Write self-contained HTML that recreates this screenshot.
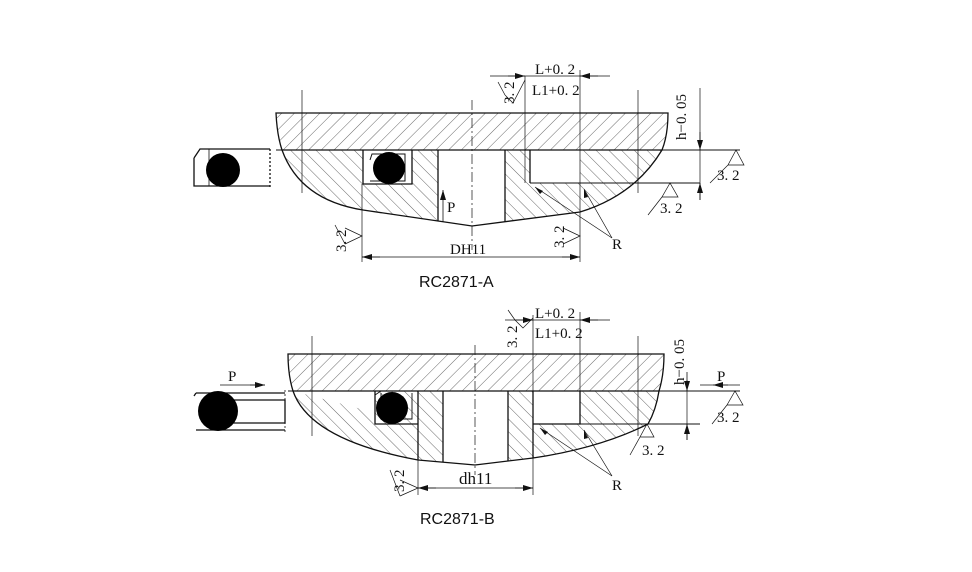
<!DOCTYPE html>
<html><head><meta charset="utf-8"><style>
html,body{margin:0;padding:0;background:#fff;}
svg{display:block;}
text{font-family:"Liberation Serif",serif;fill:#111;}
.t{font-family:"Liberation Sans",sans-serif;}
</style></head><body>
<svg width="972" height="572" viewBox="0 0 972 572" xmlns="http://www.w3.org/2000/svg">
<defs>
<pattern id="h1" width="9" height="9" patternUnits="userSpaceOnUse" patternTransform="rotate(45)"><line x1="0" y1="0" x2="0" y2="9" stroke="#444" stroke-width="0.8"/></pattern>
<pattern id="h2" width="9" height="9" patternUnits="userSpaceOnUse" patternTransform="rotate(-45)"><line x1="0" y1="0" x2="0" y2="9" stroke="#444" stroke-width="0.8"/></pattern>
<marker id="a" viewBox="0 0 10 6" refX="10" refY="3" markerWidth="10" markerHeight="6" orient="auto" markerUnits="userSpaceOnUse"><path d="M0,0L10,3L0,6z" fill="#111"/></marker>
</defs>
<g stroke="#111" stroke-width="1.3" fill="none">
<!-- ===== TOP FIGURE ===== -->
<path d="M276,113 L668,113 Q668,135 662,150 L282,150 Q277,135 276,113Z" fill="url(#h1)"/>
<path d="M282,150 L363,150 L363,210 Q300,200 282,150Z" fill="url(#h2)" stroke="none"/>
<path d="M363,184 L412,184 L412,150 L438,150 L438,221 L363,210Z" fill="url(#h2)" stroke="none"/>
<path d="M505,150 L530,150 L530,183 L580,183 L580,212 L505,222Z" fill="url(#h2)" stroke="none"/>
<path d="M580,150 L662,150 Q635,195 580,212Z" fill="url(#h2)" stroke="none"/>
<path d="M282,150 Q300,200 363,210 L472,226 L580,212 Q635,195 662,150"/>
<path d="M363,150 L363,184 L412,184 L412,150"/>
<path d="M370,160 L372,154 L405,154 L405,181 L370,181" stroke-width="1"/>
<circle cx="389" cy="168" r="16" fill="#000" stroke="none"/>
<line x1="438" y1="150" x2="438" y2="221"/><line x1="505" y1="150" x2="505" y2="222"/>
<path d="M530,150 L530,183"/>
<line x1="276" y1="150" x2="740" y2="150" stroke-width="1.1"/>
<line x1="530" y1="183" x2="700" y2="183" stroke-width="1.1"/>
<!-- left piece A -->
<path d="M194,158 L200,149 L270,149 M194,158 L194,186 L270,186" />
<path d="M200,149 L209,149 L209,186" stroke-width="0.8"/>
<line x1="270" y1="149" x2="270" y2="189" stroke-dasharray="2,2"/>
<circle cx="223" cy="170" r="17" fill="#000" stroke="none"/>
<g stroke-width="0.7">
<line x1="302" y1="90" x2="302" y2="193"/><line x1="638" y1="90" x2="638" y2="193"/>
<line x1="472" y1="100" x2="472" y2="250" stroke-dasharray="10,3,2,3"/>
<line x1="362" y1="184" x2="362" y2="262"/><line x1="580" y1="70" x2="580" y2="262"/>
<line x1="525" y1="76" x2="525" y2="183"/>
<line x1="490" y1="76" x2="610" y2="76"/>
<line x1="700" y1="88" x2="700" y2="200"/>
</g>
<line x1="508" y1="76" x2="525" y2="76" marker-end="url(#a)" stroke-width="0.8"/>
<line x1="598" y1="76" x2="580" y2="76" marker-end="url(#a)" stroke-width="0.8"/>
<line x1="700" y1="132" x2="700" y2="150" marker-end="url(#a)" stroke-width="0.8"/>
<line x1="700" y1="200" x2="700" y2="183" marker-end="url(#a)" stroke-width="0.8"/>
<line x1="362" y1="257" x2="580" y2="257" stroke-width="0.8"/>
<line x1="380" y1="257" x2="362" y2="257" marker-end="url(#a)" stroke-width="0.8"/>
<line x1="562" y1="257" x2="580" y2="257" marker-end="url(#a)" stroke-width="0.8"/>
<line x1="443" y1="222" x2="443" y2="190" marker-end="url(#a)" stroke-width="0.8"/>
<g stroke-width="0.7">
<line x1="535" y1="187" x2="612" y2="238"/><line x1="584" y1="189" x2="612" y2="238"/>
</g>
<path d="M535,187 l8,4 l-3,3z M584,189 l4,8 l-4,1z" fill="#111" stroke="none"/>
<g stroke-width="0.7">
<path d="M505,95 L513,103 L525,80"/><path d="M498,82 L505,95"/>
<path d="M736,150 L728,165 L744,165Z M728,165 L710,183"/>
<path d="M670,183 L662,197 L678,197Z M662,197 L648,215"/>
<path d="M345,228 L362,236 L345,244 M345,244 L335,225"/>
<path d="M563,228 L580,236 L563,244"/>
</g>
<!-- ===== BOTTOM FIGURE ===== -->
<path d="M288,354 L664,354 Q664,375 659,391 L293,391 Q288,375 288,354Z" fill="url(#h1)"/>
<path d="M293,391 Q310,440 418,460 L418,391 L375,391 L375,424 L418,424Z" fill="url(#h2)" stroke="none"/>
<path d="M418,391 L443,391 L443,462 L418,460Z" fill="url(#h2)" stroke="none"/>
<path d="M508,391 L533,391 L533,458 L508,461Z" fill="url(#h2)" stroke="none"/>
<path d="M533,424 L648,424 Q600,448 533,458Z" fill="url(#h2)" stroke="none"/>
<path d="M580,391 L659,391 Q656,410 648,424 L580,424Z" fill="url(#h2)" stroke="none"/>
<path d="M293,391 Q310,440 418,460 L475,465 L533,458 Q600,448 648,424 Q656,410 659,391"/>
<path d="M375,391 L375,424 L418,424 M418,391 L418,460 M443,391 L443,462 M508,391 L508,461 M533,391 L533,458"/>
<path d="M580,391 L580,424 L533,424"/>
<path d="M381,393 L381,419 L412,419 L412,393 M375,395 L381,391" stroke-width="0.9"/>
<circle cx="392" cy="408" r="16" fill="#000" stroke="none"/>
<line x1="288" y1="391" x2="740" y2="391" stroke-width="1.1"/>
<line x1="533" y1="424" x2="700" y2="424" stroke-width="1.1"/>
<path d="M196,393 L285,393 M196,430 L285,430 M230,400 L230,423 L285,423 L285,400 L230,400" />
<path d="M194,396 L196,393" />
<line x1="285" y1="390" x2="285" y2="432" stroke-dasharray="2,2" stroke-width="0.8"/>
<circle cx="218" cy="411" r="20" fill="#000" stroke="none"/>
<g stroke-width="0.7">
<line x1="220" y1="385" x2="265" y2="385"/>
<line x1="700" y1="385" x2="740" y2="385"/>
<line x1="312" y1="336" x2="312" y2="436"/><line x1="638" y1="336" x2="638" y2="436"/>
<line x1="475" y1="345" x2="475" y2="475" stroke-dasharray="10,3,2,3"/>
<line x1="533" y1="315" x2="533" y2="391"/><line x1="580" y1="312" x2="580" y2="391"/>
<line x1="505" y1="320" x2="610" y2="320"/>
<line x1="418" y1="460" x2="418" y2="495"/><line x1="533" y1="458" x2="533" y2="495"/>
<line x1="418" y1="488" x2="533" y2="488"/>
<line x1="687" y1="380" x2="687" y2="440"/>
<line x1="540" y1="428" x2="612" y2="476"/><line x1="584" y1="430" x2="612" y2="476"/>
<path d="M735,391 L727,405 L743,405Z M727,405 L712,424"/>
<path d="M647,424 L640,437 L654,437Z M640,437 L630,455"/>
<path d="M515,320 L523,328 L533,318 M508,310 L515,320"/>
<path d="M400,480 L418,488 L400,496 M400,496 L390,470"/>
</g>
<line x1="250" y1="385" x2="265" y2="385" marker-end="url(#a)" stroke-width="0.8"/>
<line x1="728" y1="385" x2="713" y2="385" marker-end="url(#a)" stroke-width="0.8"/>
<line x1="515" y1="320" x2="533" y2="320" marker-end="url(#a)" stroke-width="0.8"/>
<line x1="598" y1="320" x2="580" y2="320" marker-end="url(#a)" stroke-width="0.8"/>
<line x1="687" y1="372" x2="687" y2="391" marker-end="url(#a)" stroke-width="0.8"/>
<line x1="687" y1="440" x2="687" y2="424" marker-end="url(#a)" stroke-width="0.8"/>
<line x1="436" y1="488" x2="418" y2="488" marker-end="url(#a)" stroke-width="0.8"/>
<line x1="515" y1="488" x2="533" y2="488" marker-end="url(#a)" stroke-width="0.8"/>
</g>
<path d="M540,428 l8,4 l-3,3z M584,430 l4,8 l-4,1z" fill="#111"/>
<g font-size="15">
<text x="535" y="74">L+0. 2</text>
<text x="532" y="95">L1+0. 2</text>
<text x="686" y="140" transform="rotate(-90 686 140)">h−0. 05</text>
<text x="717" y="180">3. 2</text>
<text x="660" y="213">3. 2</text>
<text x="514" y="104" transform="rotate(-90 514 104)">3. 2</text>
<text x="346" y="252" transform="rotate(-90 346 252)">3. 2</text>
<text x="564" y="248" transform="rotate(-90 564 248)">3. 2</text>
<text x="450" y="254">DH11</text>
<text x="447" y="212">P</text>
<text x="612" y="249">R</text>
<text x="535" y="318">L+0. 2</text>
<text x="535" y="338">L1+0. 2</text>
<text x="517" y="348" transform="rotate(-90 517 348)">3. 2</text>
<text x="684" y="385" transform="rotate(-90 684 385)">h−0. 05</text>
<text x="228" y="381">P</text>
<text x="717" y="381">P</text>
<text x="717" y="422">3. 2</text>
<text x="642" y="455">3. 2</text>
<text x="404" y="492" transform="rotate(-90 404 492)">3. 2</text>
<text x="459" y="484" font-size="17">dh11</text>
<text x="612" y="490">R</text>
</g>
<text class="t" x="419" y="287" font-size="16">RC2871-A</text>
<text class="t" x="420" y="524" font-size="16">RC2871-B</text>
</svg>
</body></html>
